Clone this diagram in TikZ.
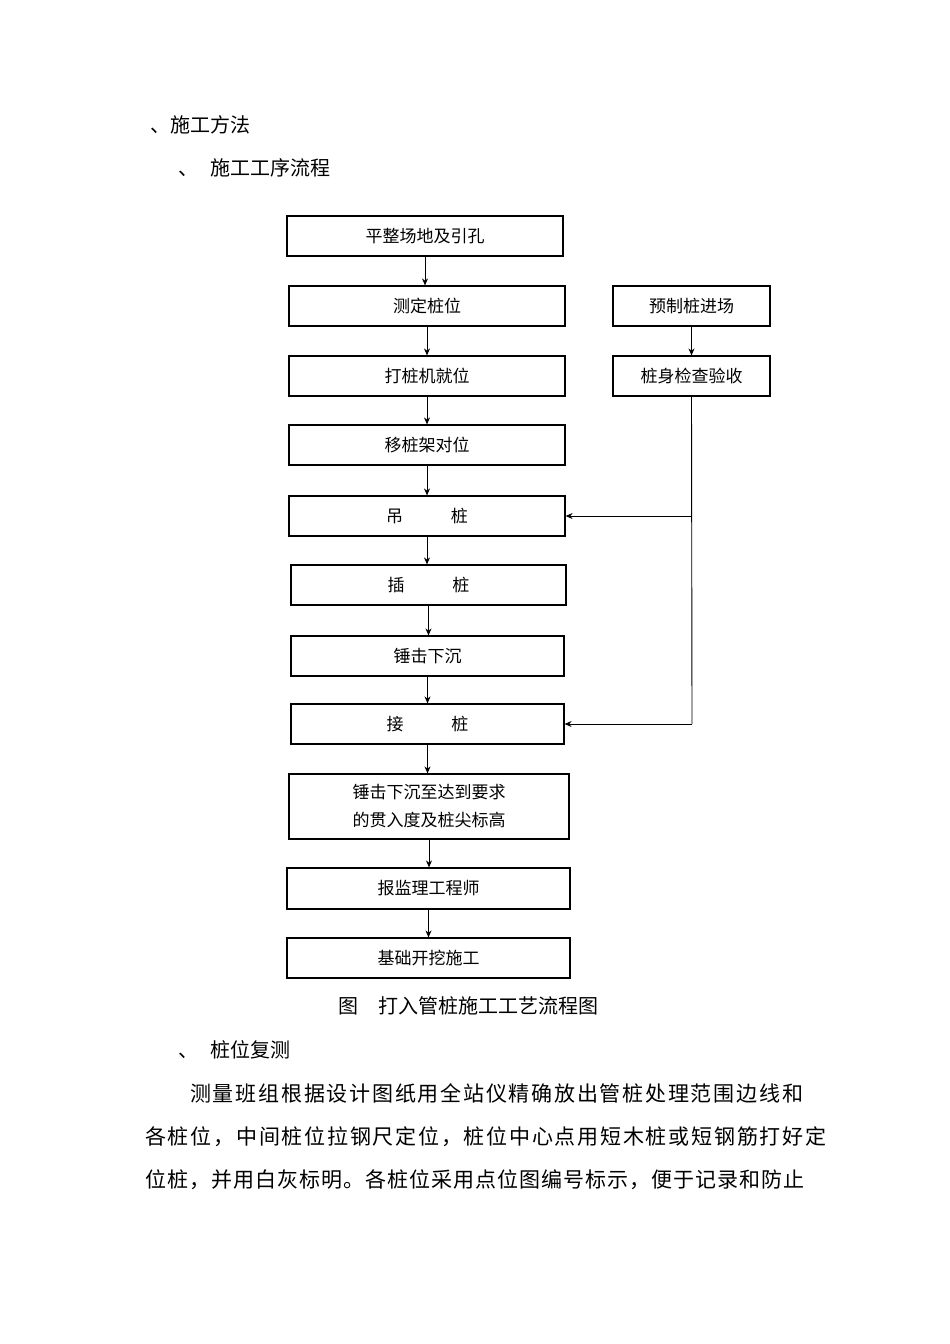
\documentclass[tikz,border=0pt]{standalone}
\usepackage{fontspec}
\setmainfont{Noto Sans CJK SC}
\usetikzlibrary{arrows.meta}
\begin{document}
\begin{tikzpicture}[x=1pt,y=-1pt,
  bx/.style={draw,line width=1.2pt,inner sep=0pt,font=\fontsize{17}{22}\selectfont,align=center},
  ar/.style={-{Stealth[length=7pt,width=6pt]},line width=0.9pt},
  tx/.style={anchor=west,inner sep=0pt,font=\fontsize{20}{24}\selectfont},
  para/.style={anchor=west,inner sep=0pt,font=\fontsize{21}{24}\selectfont}]
\useasboundingbox[fill=white] (0,0) rectangle (950,1344);
\node[tx] (h1) at (150,125) {、施工方法};
\node[tx] (h2) at (178,168) {、\hspace{12pt}施工工序流程};
\def\B#1#2#3#4#5#6{\node[bx,minimum width=#4-#2,minimum height=#5-#3] (#1) at ({(#2+#4)/2},{(#3+#5)/2}) {#6};}
\B{a}{287}{216}{563}{256}{平整场地及引孔}
\B{b}{289}{286}{565}{326}{测定桩位}
\B{c}{289}{356}{565}{396}{打桩机就位}
\B{d}{289}{425}{565}{465}{移桩架对位}
\B{e}{289}{496}{565}{536}{吊\hspace{48pt}桩}
\B{f}{291}{565}{566}{605}{插\hspace{48pt}桩}
\B{g}{291}{636}{564}{676}{锤击下沉}
\B{h}{291}{704}{564}{744}{接\hspace{48pt}桩}
\B{i}{289}{774}{569}{839}{锤击下沉至达到要求\\[6pt]的贯入度及桩尖标高}
\B{j}{287}{868}{570}{909}{报监理工程师}
\B{k}{287}{938}{570}{978}{基础开挖施工}
\B{p}{613}{286}{770}{326}{预制桩进场}
\B{q}{613}{356}{770}{396}{桩身检查验收}
\foreach \u/\v in {a/b,b/c,c/d,d/e,e/f,f/g,g/h,h/i,i/j,j/k,p/q}
  \draw[ar] (\u.south) -- (\u.south |- \v.north);
\coordinate (r1) at (692,516);
\coordinate (r2) at (692,724);
\draw[line width=0.9pt] (q.south) -- (r2);
\draw[ar] (r1) -- (e.east);
\draw[ar] (r2) -- (h.east);
\node[inner sep=0pt,font=\fontsize{20}{24}\selectfont] (cap) at (468,1006) {图\hspace{20pt}打入管桩施工工艺流程图};
\node[tx] (h3) at (178,1050) {、\hspace{12pt}桩位复测};
\node[para] (l1) at (190,1093) {\addfontfeature{LetterSpace=8.4}测量班组根据设计图纸用全站仪精确放出管桩处理范围边线和};
\node[para] (l2) at (145,1137) {\addfontfeature{LetterSpace=8.4}各桩位，中间桩位拉钢尺定位，桩位中心点用短木桩或短钢筋打好定};
\node[para] (l3) at (145,1180) {\addfontfeature{LetterSpace=4.8}位桩，并用白灰标明。各桩位采用点位图编号标示，便于记录和防止};
\end{tikzpicture}
\end{document}
